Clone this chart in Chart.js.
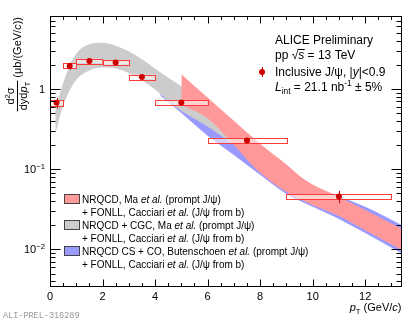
<!DOCTYPE html>
<html>
<head>
<meta charset="utf-8">
<script src="https://cdn.jsdelivr.net/npm/chart.js@4.4.1/dist/chart.umd.min.js"></script>
<style>
  body { margin: 0; background: #fff; }
  canvas { display: block; }
</style>
</head>
<body>
<canvas id="c" width="415" height="322" style="width:415px;height:322px"></canvas>
<script>
// measured points (inclusive J/psi, pp 13 TeV)
const ptX = [0.25, 0.75, 1.5, 2.5, 3.5, 5, 7.5, 11];
const ptLo = [0, 0.5, 1, 2, 3, 4, 6, 9];
const ptHi = [0.5, 1, 2, 3, 4, 6, 9, 13];
const ptY = [0.67, 1.93, 2.23, 2.14, 1.41, 0.675, 0.228, 0.0456];
const statErr = [0.1, 0.19, 0.2, 0.12, 0.06, 0.025, 0.008, 0.008];
const sysErr = [0.054, 0.15, 0.145, 0.14, 0.1, 0.044, 0.017, 0.0032];

// NRQCD, Ma et al. + FONLL
const redX = [5, 6, 7, 7.85, 9, 9.74, 11, 12, 13.4];
const redUp = [1.52, 0.78, 0.40, 0.228, 0.114, 0.072, 0.045, 0.031, 0.018];
const redLo = [0.63, 0.43, 0.2, 0.1, 0.052, 0.039, 0.026, 0.0173, 0.0098];

// NRQCD + CGC, Ma et al. + FONLL
const greyX = [0.2, 0.45, 0.7, 1.0, 1.5, 2.0, 2.5, 3.0, 3.5, 4.0, 4.5, 5.0, 6.0, 7.0];
const greyUp = [0.55, 1.05, 1.8, 2.75, 3.6, 3.75, 3.45, 2.95, 2.35, 1.8, 1.38, 1.08, 0.65, 0.38];
const greyLo = [0.27, 0.55, 0.88, 1.3, 1.7, 1.85, 1.8, 1.58, 1.28, 0.98, 0.7, 0.53, 0.34, 0.2];

// NRQCD CS + CO, Butenschoen et al. + FONLL
const blueX = [4.2, 5, 6, 7, 8, 9, 10, 11, 12, 13.4];
const blueUp = [0.9, 0.8, 0.5, 0.3, 0.17, 0.1, 0.062, 0.046, 0.034, 0.02];
const blueLo = [0.82, 0.5, 0.26, 0.15, 0.085, 0.049, 0.034, 0.024, 0.016, 0.0089];

const xTicks = [0, 2, 4, 6, 8, 10, 12];
const yDecades = [-2, -1, 0];

const FONT = '"Liberation Sans", Arial, Helvetica, sans-serif';

function pts(xs, ys) {
    return xs.map((x, i) => ({ x: x, y: ys[i] }));
}

function band(xs, ys, color, fill) {
    return {
        data: pts(xs, ys),
        showLine: true,
        pointRadius: 0,
        borderWidth: 0,
        borderColor: 'rgba(0,0,0,0)',
        backgroundColor: color,
        fill: fill,
        cubicInterpolationMode: 'monotone'
    };
}

// draws a list of [text, style] pieces, style: '', 'i', 'sup', 'sub', 'isub'
function rich(ctx, x, y, parts, size) {
    parts.forEach(p => {
        const t = p[0], st = p[1] || '';
        let fs = size, dy = 0, it = false;
        if (st === 'i') it = true;
        if (st === 'sup') { fs = size * 0.7; dy = -size * 0.4; }
        if (st === 'sub' || st === 'isub') { fs = size * 0.7; dy = size * 0.25; it = st === 'isub'; }
        ctx.font = (it ? 'italic ' : '') + fs + 'px ' + FONT;
        ctx.fillText(t, x, y + dy);
        x += ctx.measureText(t).width;
    });
    return x;
}

function richWidth(ctx, parts, size) {
    let w = 0;
    parts.forEach(p => {
        const st = p[1] || '';
        const small = st === 'sup' || st === 'sub' || st === 'isub';
        ctx.font = ((st === 'i' || st === 'isub') ? 'italic ' : '') + (small ? size * 0.7 : size) + 'px ' + FONT;
        w += ctx.measureText(p[0]).width;
    });
    return w;
}

const decorPlugin = {
    id: 'decor',
    beforeDatasetDraw(chart, args) {
        if (args.index !== 0) return;
        const ctx = chart.ctx, xs = chart.scales.x, ys = chart.scales.y;
        ctx.save();
        // systematic boxes
        ptX.forEach((x, i) => {
            const l = xs.getPixelForValue(ptLo[i]);
            const r = xs.getPixelForValue(ptHi[i]);
            const t = ys.getPixelForValue(ptY[i] + sysErr[i]);
            const b = ys.getPixelForValue(ptY[i] - sysErr[i]);
            ctx.fillStyle = 'rgba(255,255,255,0.55)';
            ctx.fillRect(l, t, r - l, b - t);
            ctx.strokeStyle = '#ff3a3a';
            ctx.lineWidth = 1;
            ctx.strokeRect(Math.round(l) + 0.5, Math.round(t) + 0.5, Math.round(r - l), Math.round(b - t));
        });
        // statistical bars
        ctx.strokeStyle = '#cc0000';
        ctx.lineWidth = 1;
        ptX.forEach((x, i) => {
            const px = Math.round(xs.getPixelForValue(x)) + 0.5;
            ctx.beginPath();
            ctx.moveTo(px, ys.getPixelForValue(ptY[i] + statErr[i]));
            ctx.lineTo(px, ys.getPixelForValue(ptY[i] - statErr[i]));
            ctx.stroke();
        });
        ctx.restore();
    },
    afterDraw(chart) {
        const ctx = chart.ctx, a = chart.chartArea;
        const xs = chart.scales.x, ys = chart.scales.y;
        ctx.save();
        ctx.strokeStyle = '#000';
        ctx.fillStyle = '#000';
        ctx.lineWidth = 1;
        const L = Math.round(a.left) + 0.5, R = Math.round(a.right) - 0.5;
        const T = Math.round(a.top) + 0.5, B = Math.round(a.bottom) - 0.5;
        ctx.strokeRect(L, T, R - L, B - T);

        // x ticks, bottom and top
        ctx.beginPath();
        for (let v = 0; v <= 13.4; v += 0.5) {
            const px = Math.round(xs.getPixelForValue(v)) + 0.5;
            const len = (v % 2 === 0) ? 7 : 3.5;
            ctx.moveTo(px, B); ctx.lineTo(px, B - len);
            ctx.moveTo(px, T); ctx.lineTo(px, T + len);
        }
        // y ticks, left and right
        for (let d = -3; d <= 0; d++) {
            for (let m = 1; m <= 9; m++) {
                const v = m * Math.pow(10, d);
                if (v < ys.min || v > ys.max) continue;
                const py = Math.round(ys.getPixelForValue(v)) + 0.5;
                const len = m === 1 ? 10 : 5;
                ctx.moveTo(L, py); ctx.lineTo(L + len, py);
                ctx.moveTo(R, py); ctx.lineTo(R - len, py);
            }
        }
        ctx.stroke();

        // x tick labels
        ctx.font = '11px ' + FONT;
        ctx.textAlign = 'center';
        ctx.textBaseline = 'alphabetic';
        xTicks.forEach(v => ctx.fillText(String(v), xs.getPixelForValue(v), 300));

        // y tick labels
        ctx.textAlign = 'left';
        yDecades.forEach(d => {
            const py = ys.getPixelForValue(Math.pow(10, d)) + 4;
            const parts = d === 0 ? [['1', '']] : [['10', ''], ['\u2212' + (-d), 'sup']];
            const w = richWidth(ctx, parts, 11);
            rich(ctx, 45 - w, py, parts, 11);
        });

        // x axis title
        const xt = [['p', 'i'], ['T', 'sub'], [' (GeV/', ''], ['c', 'i'], [')', '']];
        rich(ctx, R - richWidth(ctx, xt, 11), 311, xt, 11);

        // y axis title (rotated)
        ctx.save();
        ctx.translate(17, 96);
        ctx.rotate(-Math.PI / 2);
        const num = [['d', ''], ['2', 'sup'], ['\u03c3', '']];
        const den = [['dyd', ''], ['p', 'i'], ['T', 'sub']];
        const nw = richWidth(ctx, num, 11), dw = richWidth(ctx, den, 11);
        rich(ctx, -nw / 2, -3, num, 11);
        rich(ctx, -dw / 2, 10, den, 11);
        ctx.beginPath();
        ctx.moveTo(-Math.max(nw, dw) / 2 - 1, 0.5);
        ctx.lineTo(Math.max(nw, dw) / 2 + 1, 0.5);
        ctx.stroke();
        rich(ctx, Math.max(nw, dw) / 2 + 4, 4, [['(\u03bcb/(GeV/', ''], ['c', 'i'], ['))', '']], 11);
        ctx.restore();

        // top-right annotations
        rich(ctx, 275, 44, [['ALICE Preliminary', '']], 12);
        let x = rich(ctx, 275, 59, [['pp ', '']], 12);
        ctx.font = '12px ' + FONT;
        ctx.fillText('\u221a', x, 59);
        x += ctx.measureText('\u221a').width;
        const sx = x;
        x = rich(ctx, x, 59, [['s', 'i']], 12);
        ctx.beginPath();
        ctx.moveTo(sx - 0.5, 49.5); ctx.lineTo(x + 0.5, 49.5);
        ctx.stroke();
        rich(ctx, x, 59, [[' = 13 TeV', '']], 12);
        rich(ctx, 275, 76, [['Inclusive J/\u03c8, |', ''], ['y', 'i'], ['|<0.9', '']], 12);
        rich(ctx, 275, 91, [['L', 'i'], ['int', 'sub'], [' = 21.1 nb', ''], ['-1', 'sup'], [' \u00b1 5%', '']], 12);
        // legend marker for data
        ctx.fillStyle = '#cc0000';
        ctx.strokeStyle = '#cc0000';
        ctx.beginPath();
        ctx.arc(262, 72, 3, 0, Math.PI * 2);
        ctx.fill();
        ctx.beginPath();
        ctx.moveTo(262.5, 67); ctx.lineTo(262.5, 77);
        ctx.stroke();

        // model legend
        const rows = [
            ['#ff9999', [['NRQCD, Ma ', ''], ['et al.', 'i'], [' (prompt J/\u03c8)', '']]],
            ['#cccccc', [['NRQCD + CGC, Ma ', ''], ['et al.', 'i'], [' (prompt J/\u03c8)', '']]],
            ['#9999ff', [['NRQCD CS + CO, Butenschoen ', ''], ['et al.', 'i'], [' (prompt J/\u03c8)', '']]]
        ];
        const fonll = [['+ FONLL, Cacciari ', ''], ['et al.', 'i'], [' (J/\u03c8 from b)', '']];
        rows.forEach((r, i) => {
            const y0 = 199 + i * 26;
            ctx.fillStyle = r[0];
            ctx.fillRect(64, y0 - 4.5, 15, 9);
            ctx.strokeStyle = '#444';
            ctx.strokeRect(64.5, y0 - 4.5, 15, 9);
            ctx.fillStyle = '#000';
            rich(ctx, 82, y0 + 3.5, r[1], 10);
            rich(ctx, 82, y0 + 16.5, fonll, 10);
        });

        // preliminary label
        ctx.fillStyle = '#999';
        ctx.font = '8.5px "Liberation Mono", "DejaVu Sans Mono", monospace';
        ctx.textAlign = 'left';
        ctx.fillText('ALI-PREL-316289', 3, 318);
        ctx.restore();
    }
};

const pointSet = {
    data: pts(ptX, ptY),
    pointRadius: 3,
    pointBackgroundColor: '#cc0000',
    pointBorderColor: '#cc0000',
    pointBorderWidth: 0,
    showLine: false
};

new Chart(document.getElementById('c'), {
    type: 'scatter',
    data: {
        datasets: [
            pointSet,
            band(redX, redUp, '#ff9999', '+1'),
            band(redX, redLo, '#ff9999', false),
            band(greyX, greyUp, '#cccccc', '+1'),
            band(greyX, greyLo, '#cccccc', false),
            band(blueX, blueUp, '#9999ff', '+1'),
            band(blueX, blueLo, '#9999ff', false)
        ]
    },
    options: {
        responsive: false,
        animation: false,
        events: [],
        layout: { padding: { left: 50, right: 13, top: 16, bottom: 35 } },
        plugins: { legend: { display: false }, tooltip: { enabled: false } },
        scales: {
            x: { type: 'linear', min: 0, max: 13.4, display: false },
            y: { type: 'logarithmic', min: 0.0034, max: 8.1, display: false }
        }
    },
    plugins: [decorPlugin]
});
</script>
</body>
</html>
